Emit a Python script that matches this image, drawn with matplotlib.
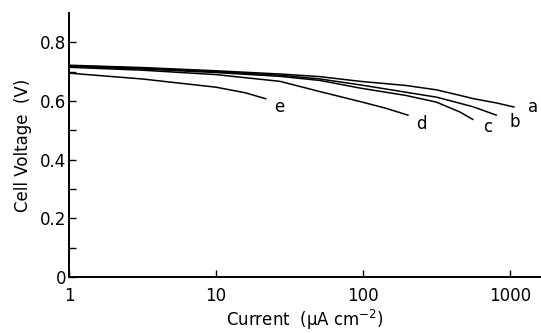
import numpy as np
import matplotlib
matplotlib.use("Agg")
import matplotlib.pyplot as plt
from matplotlib.ticker import FixedLocator, NullLocator

# Data (current in uA/cm2, voltage in V)
a_x = [1, 3.16, 10, 27.2, 50.9, 95.5, 195, 316, 457, 562, 813, 1072]
a_y = [0.722, 0.714, 0.703, 0.692, 0.683, 0.667, 0.653, 0.638, 0.619, 0.608, 0.593, 0.579]
b_x = [1, 3.16, 10, 27.2, 50.9, 95.5, 195, 316, 457, 562, 813]
b_y = [0.720, 0.712, 0.700, 0.688, 0.675, 0.655, 0.630, 0.613, 0.592, 0.580, 0.551]
c_x = [1, 3.16, 10, 27.2, 50.9, 95.5, 195, 316, 457, 562]
c_y = [0.718, 0.709, 0.697, 0.684, 0.670, 0.644, 0.619, 0.596, 0.562, 0.536]
d_x = [1, 3.16, 10, 27.2, 50.9, 95.5, 141, 204]
d_y = [0.715, 0.705, 0.690, 0.667, 0.632, 0.598, 0.576, 0.551]
e_x = [1, 3.16, 10, 15.8, 22]
e_y = [0.695, 0.675, 0.647, 0.628, 0.607]

curve_names = ["a", "b", "c", "d", "e"]
label_pos = {"a": (1430, 0.580), "b": (1080, 0.527), "c": (700, 0.513),
             "d": (250, 0.520), "e": (27, 0.581)}

x_ticks = [1, 10, 100, 1000]
x_ticklabels = ["1", "10", "100", "1000"]
y_ticks = [0, 0.2, 0.4, 0.6, 0.8]
y_ticklabels = ["0", "0.2", "0.4", "0.6", "0.8"]
y_minor = [0.1, 0.3, 0.5, 0.7]

fig = plt.figure(figsize=(5.41, 3.33), dpi=100)
ax = fig.add_axes([69 / 541, 56 / 333, (541 - 69) / 541, (277 - 13) / 333])

series = {"a": (a_x, a_y), "b": (b_x, b_y), "c": (c_x, c_y),
          "d": (d_x, d_y), "e": (e_x, e_y)}
for name in curve_names:
    xs, ys = series[name]
    ax.plot(xs, ys, color="black", lw=1.1, solid_capstyle="butt",
            solid_joinstyle="round")
    lx, ly = label_pos[name]
    ax.text(lx, ly, name, fontsize=12, ha="center", va="center")

ax.set_xscale("log")
ax.set_xlim(1, 1620)
ax.set_ylim(0, 0.9)

ax.set_xticks(x_ticks)
ax.set_xticklabels(x_ticklabels)
ax.xaxis.set_minor_locator(NullLocator())
ax.set_yticks(y_ticks)
ax.set_yticklabels(y_ticklabels)
ax.yaxis.set_minor_locator(FixedLocator(y_minor))

ax.tick_params(axis="both", which="both", direction="in", labelsize=12, width=1.0)
ax.tick_params(axis="x", which="major", length=5, pad=7)
ax.tick_params(axis="y", which="major", length=5, pad=2)
ax.tick_params(axis="y", which="minor", length=5)

for s in ["top", "right"]:
    ax.spines[s].set_visible(False)
for s in ["left", "bottom"]:
    ax.spines[s].set_linewidth(1.4)

ax.set_xlabel("Current  (\u03bcA cm$^{-2}$)", fontsize=12, labelpad=2)
ax.set_ylabel("Cell Voltage  (V)", fontsize=12, labelpad=6)

fig.savefig("out.png", dpi=100)
